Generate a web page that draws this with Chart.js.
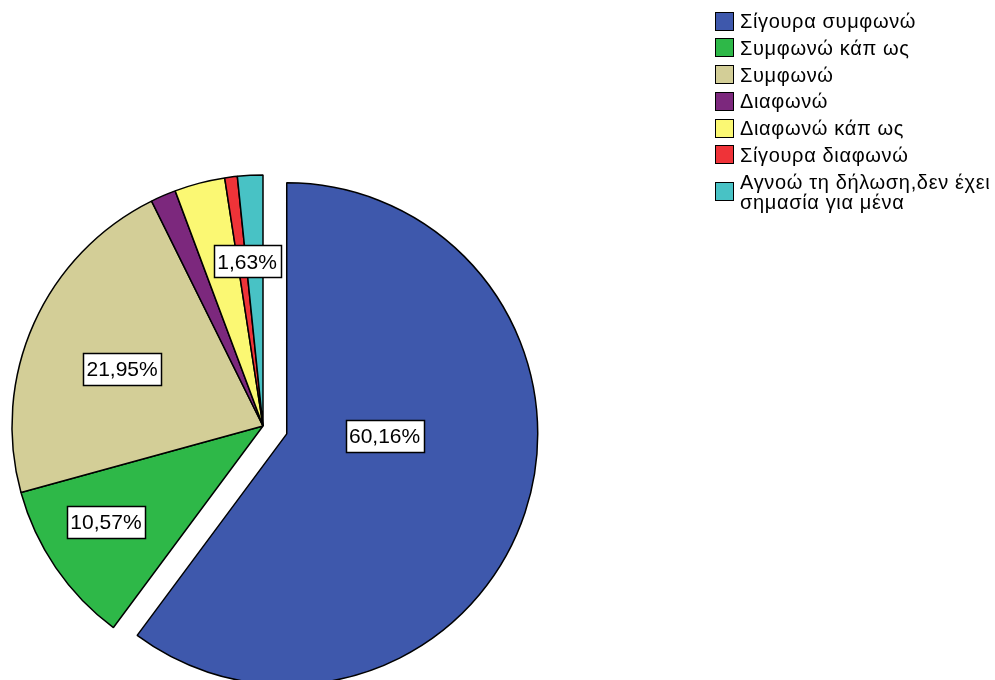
<!DOCTYPE html>
<html>
<head>
<meta charset="utf-8">
<script src="https://cdn.jsdelivr.net/npm/chart.js@4/dist/chart.umd.min.js"></script>
<style>
  html, body { margin: 0; padding: 0; background: #fff; }
  #wrap { position: relative; width: 995px; height: 680px; overflow: hidden; }
  #c { position: absolute; left: 0; top: 0; }
  #legend { position: absolute; left: 715px; top: 11px; font-family: "Liberation Sans", Arial, sans-serif; font-size: 20px; letter-spacing: 0.65px; color: #000; }
  .row { display: flex; align-items: center; margin-bottom: 6.8px; }
  .sw { width: 17px; height: 17px; border: 1px solid #000; flex: 0 0 auto; margin-right: 6px; }
  .txt { white-space: pre; line-height: 20px; }
</style>
</head>
<body>
<div id="wrap">
  <canvas id="c" width="995" height="680"></canvas>
  <div id="legend"></div>
</div>
<script>
// ---- data ----
const categories = [
  "Σίγουρα συμφωνώ",
  "Συμφωνώ κάπ ως",
  "Συμφωνώ",
  "Διαφωνώ",
  "Διαφωνώ κάπ ως",
  "Σίγουρα διαφωνώ",
  "Αγνοώ τη δήλωση,δεν έχει\nσημασία για μένα"
];
const percentages = [60.16, 10.57, 21.95, 1.63, 3.25, 0.81, 1.63];
const showValueLabel = [true, true, true, false, false, false, true];
const sliceColors = ["#3E58AC", "#2EB848", "#D3CE97", "#7C287D", "#FBF873", "#EF3338", "#48C2C5"];
const explodeDistance = [25, 0, 0, 0, 0, 0, 0];

// ---- label placement style (fraction of radius, angle shift in degrees) ----
const labelPlacement = [
  { frac: 0.39, shift: -17 },
  { frac: 0.733, shift: 3 },
  { frac: 0.606, shift: -2 },
  { frac: 0.6, shift: 0 },
  { frac: 0.6, shift: 0 },
  { frac: 0.6, shift: 0 },
  { frac: 0.659, shift: -2.6 }
];

function fmt(v) { return v.toFixed(2).replace('.', ',') + '%'; }

// Exploded slice: translate the whole slice without enlarging it
const origArcDraw = Chart.ArcElement.prototype.draw;
Chart.ArcElement.prototype.draw = function (ctx) {
  const i = this.$context ? this.$context.dataIndex : -1;
  const d = explodeDistance[i] || 0;
  if (d) {
    const mid = (this.startAngle + this.endAngle) / 2;
    ctx.save();
    ctx.translate(Math.cos(mid) * d, Math.sin(mid) * d);
    origArcDraw.call(this, ctx);
    ctx.restore();
  } else {
    origArcDraw.call(this, ctx);
  }
};

const valueLabelPlugin = {
  id: 'valueLabels',
  afterDatasetsDraw(chart) {
    const ctx = chart.ctx;
    const meta = chart.getDatasetMeta(0);
    ctx.save();
    ctx.font = '21px "Liberation Sans", Arial, sans-serif';
    ctx.textAlign = 'center';
    ctx.textBaseline = 'middle';
    meta.data.forEach((arc, i) => {
      if (!showValueLabel[i]) return;
      const p = arc.getProps(['x', 'y', 'startAngle', 'endAngle', 'outerRadius'], true);
      const off = explodeDistance[i] || 0;
      const mid = (p.startAngle + p.endAngle) / 2;
      const cx = p.x + Math.cos(mid) * off;
      const cy = p.y + Math.sin(mid) * off;
      const a = mid + labelPlacement[i].shift * Math.PI / 180;
      const r = labelPlacement[i].frac * p.outerRadius;
      const lx = cx + Math.cos(a) * r;
      const ly = cy + Math.sin(a) * r;
      const text = fmt(percentages[i]);
      const w = Math.round(ctx.measureText(text).width + 7);
      const h = 32;
      const bx = Math.round(lx - w / 2), by = Math.round(ly - h / 2);
      ctx.fillStyle = '#fff';
      ctx.fillRect(bx, by, w, h);
      ctx.strokeStyle = '#000';
      ctx.lineWidth = 1.5;
      ctx.strokeRect(bx + 0.5, by + 0.5, w, h);
      ctx.fillStyle = '#000';
      ctx.fillText(text, lx, ly + 1.5);
    });
    ctx.restore();
  }
};

new Chart(document.getElementById('c'), {
  type: 'pie',
  data: {
    labels: categories,
    datasets: [{
      data: percentages,
      backgroundColor: sliceColors,
      borderColor: '#000',
      borderWidth: 1.5
    }]
  },
  options: {
    responsive: false,
    animation: false,
    devicePixelRatio: 1,
    radius: 251,
    layout: { padding: { left: 0, right: 469, top: 172, bottom: 0 } },
    plugins: {
      legend: { display: false },
      title: { display: false },
      tooltip: { enabled: false }
    }
  },
  plugins: [valueLabelPlugin]
});

// HTML legend built from the same arrays
const leg = document.getElementById('legend');
categories.forEach((name, i) => {
  const row = document.createElement('div');
  row.className = 'row';
  const sw = document.createElement('div');
  sw.className = 'sw';
  sw.style.background = sliceColors[i];
  const t = document.createElement('div');
  t.className = 'txt';
  t.textContent = name;
  row.appendChild(sw);
  row.appendChild(t);
  leg.appendChild(row);
});
</script>
</body>
</html>
